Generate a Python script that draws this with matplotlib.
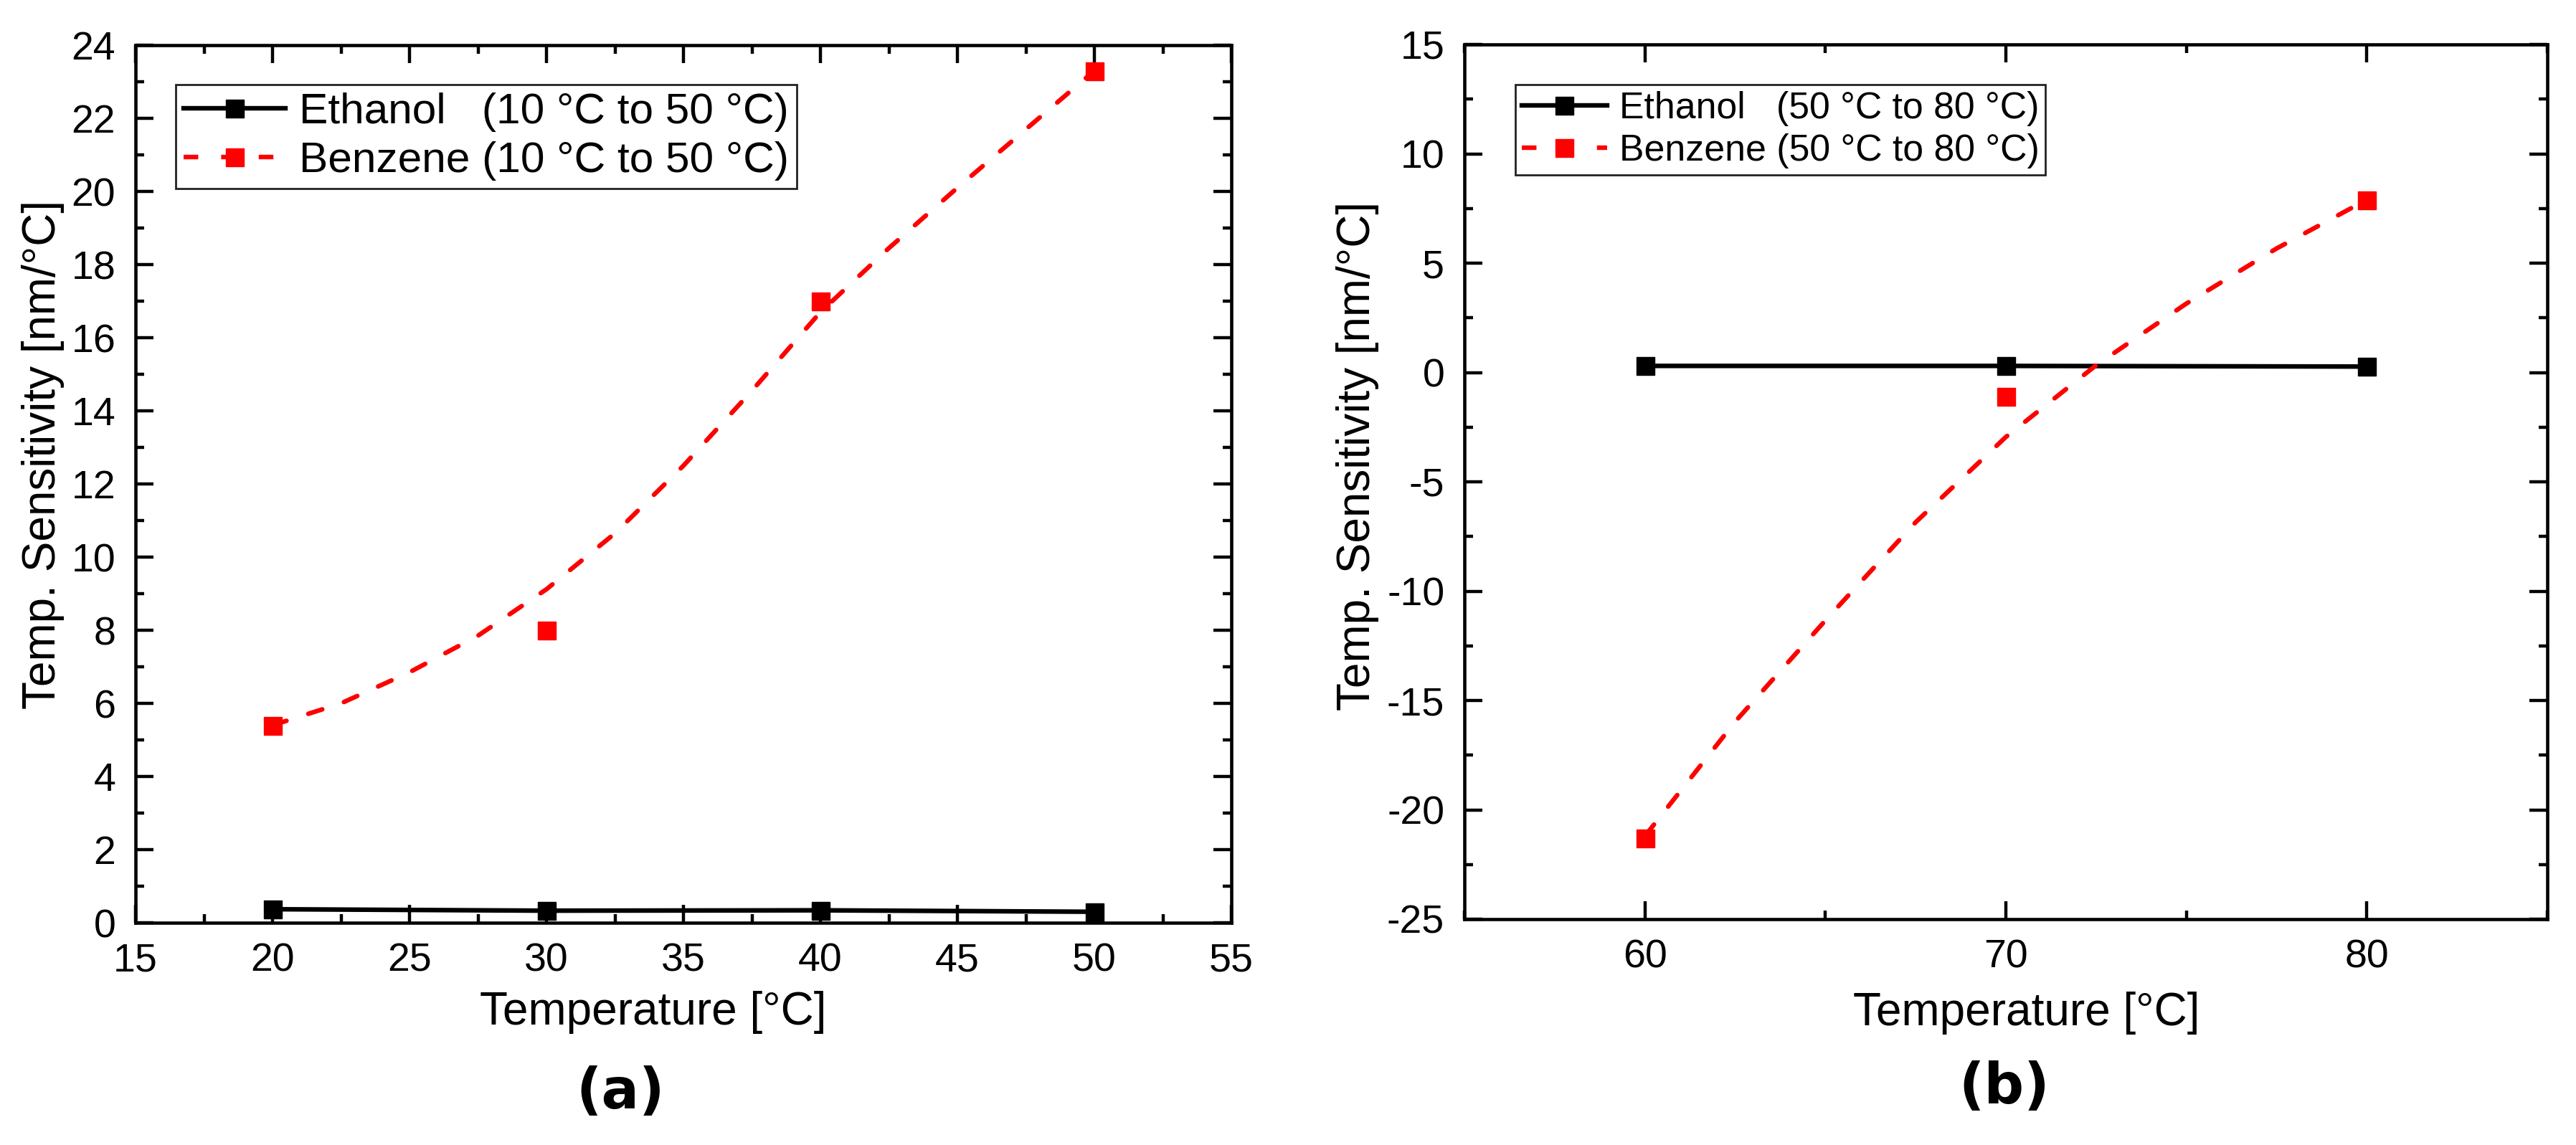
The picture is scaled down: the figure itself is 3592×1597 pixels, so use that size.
import matplotlib
matplotlib.use("Agg")
import matplotlib.pyplot as plt
from matplotlib.lines import Line2D
from matplotlib.ticker import MultipleLocator

plt.rcParams["font.family"] = ["Liberation Sans", "DejaVu Sans"]
plt.rcParams["axes.unicode_minus"] = False

# ---- data ----
temp_a = [20, 30, 40, 50]
ethanol_a = [0.37, 0.33, 0.34, 0.30]
benzene_a = [5.4, 8.0, 17.0, 23.3]
# dashed trend curve
trend_a_x = [20, 22.5, 25, 27.5, 30, 32.5, 35, 37.5, 40, 42.5, 45, 47.5, 50]
trend_a_y = [5.40, 6.00, 6.85, 7.85, 9.12, 10.65, 12.5, 14.55, 16.7, 18.45, 20.1, 21.7, 23.3]

temp_b = [60, 70, 80]
ethanol_b = [0.30, 0.30, 0.27]
benzene_b = [-21.3, -1.1, 7.9]
trend_b_x = [60, 62.5, 65, 67.5, 70, 72.5, 75, 77.5, 80]
trend_b_y = [-21.2, -15.97, -11.34, -6.85, -2.95, 0.33, 3.15, 5.67, 7.9]

labels_a = ["Ethanol   (10 °C to 50 °C)", "Benzene (10 °C to 50 °C)"]
labels_b = ["Ethanol   (50 °C to 80 °C)", "Benzene (50 °C to 80 °C)"]

W, H = 3592, 1597
fig = plt.figure(figsize=(W / 100, H / 100), dpi=100)

LW = 4.6
MS = 18
DASH = (0, (3.2, 5.0))


def style_axes(ax, xmaj, xmin, ymaj, ymin):
    for sp in ax.spines.values():
        sp.set_linewidth(3.3)
    ax.xaxis.set_major_locator(MultipleLocator(xmaj))
    ax.xaxis.set_minor_locator(MultipleLocator(xmin))
    ax.yaxis.set_major_locator(MultipleLocator(ymaj))
    ax.yaxis.set_minor_locator(MultipleLocator(ymin))
    ax.tick_params(which="both", direction="in", top=True, right=True, width=3.2)
    ax.tick_params(which="major", length=18, labelsize=40, pad=20)
    ax.tick_params(which="minor", length=8.6)


def draw_panel(ax, tx, eth, benz, cx, cy, labels, anchor, fsize, hlen, lsp, bpad):
    ax.plot(tx, eth, "-", color="black", lw=LW, zorder=3)
    ax.plot(tx, eth, "s", color="black", ms=MS, mew=1, zorder=4)
    ax.plot(cx, cy, color="red", lw=LW, ls=DASH, dash_capstyle="round", zorder=3)
    ax.plot(tx, benz, "s", color="red", ms=MS, mew=1, zorder=4)
    handles = [
        Line2D([], [], color="black", lw=LW, marker="s", ms=MS),
        Line2D([], [], color="red", lw=LW, ls=DASH, marker="s", ms=MS),
    ]
    leg = ax.legend(handles, labels, loc="upper left", bbox_to_anchor=anchor,
                    borderaxespad=0, fontsize=fsize, numpoints=1,
                    handlelength=hlen, handletextpad=0.32, labelspacing=lsp,
                    borderpad=bpad, fancybox=False, framealpha=1,
                    edgecolor="#222222")
    leg.get_frame().set_linewidth(2)


ax1 = fig.add_axes([189 / W, (H - 1287) / H, 1528 / W, 1224 / H])
ax2 = fig.add_axes([2042 / W, (H - 1282) / H, 1510 / W, 1220 / H])

draw_panel(ax1, temp_a, ethanol_a, benzene_a, trend_a_x, trend_a_y, labels_a,
           (0.0366, 0.955), 43.5, 2.35, 0.22, 0.18)
ax1.set_xlim(15, 55)
ax1.set_ylim(0, 24)
style_axes(ax1, 5, 2.5, 2, 1)

draw_panel(ax2, temp_b, ethanol_b, benzene_b, trend_b_x, trend_b_y, labels_b,
           (0.047, 0.954), 37.3, 2.3, 0.2, 0.17)
ax2.set_xlim(55, 85)
ax2.set_ylim(-25, 15)
style_axes(ax2, 10, 5, 5, 2.5)

for ax, xc, yb, yx, yy in [(ax1, 0.472, -0.116, -0.0648, 0.5335),
                           (ax2, 0.519, -0.121, -0.0788, 0.5295)]:
    ax.set_xlabel("Temperature [°C]", fontsize=46, va="baseline")
    ax.xaxis.set_label_coords(xc, yb)
    ax.set_ylabel("Temp. Sensitivity [nm/°C]", fontsize=46)
    ax.yaxis.set_label_coords(yx, yy)

for xp, yp, txt in [(865, 1524, "(a)"), (2795, 1517, "(b)")]:
    fig.text(xp / W, 1 - yp / H, txt, fontsize=56, fontweight="bold",
             family="DejaVu Sans", ha="center", va="center")

fig.savefig("out.png", dpi=100, facecolor="white")
